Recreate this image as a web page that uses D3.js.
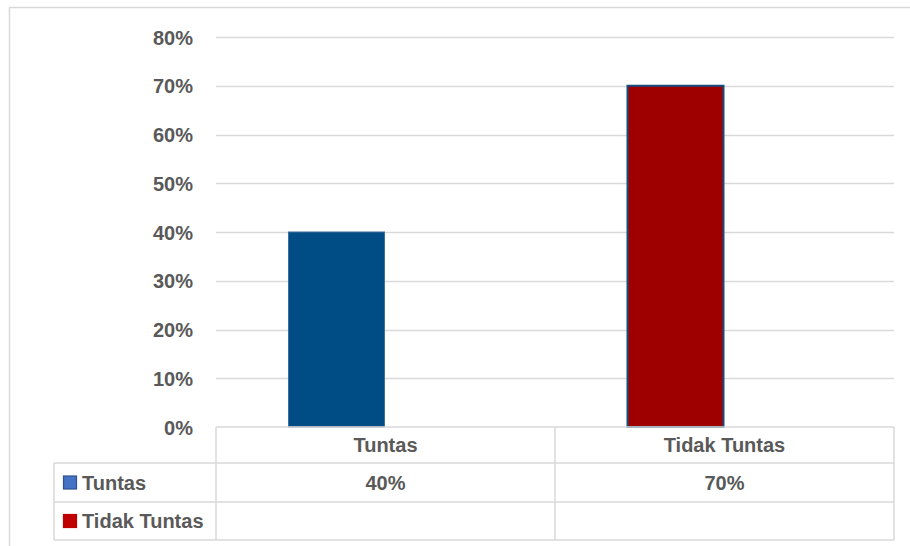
<!DOCTYPE html>
<html>
<head>
<meta charset="utf-8">
<script src="https://cdn.jsdelivr.net/npm/d3@7"></script>
<style>
  html, body { margin: 0; padding: 0; background: #fff; }
  svg { display: block; }
  text { font-family: "Liberation Sans", Arial, sans-serif; font-weight: bold; fill: #595959; }
</style>
</head>
<body>
<svg id="chart" width="910" height="546"></svg>
<script>
// Categories along the x axis and the two series of the clustered column chart
const categories = ["Tuntas", "Tidak Tuntas"];
const seriesNames = ["Tuntas", "Tidak Tuntas"];
const tuntasValues = [0.40, 0.70];
const tidakTuntasValues = [null, null];
const yTicks = [0, 0.1, 0.2, 0.3, 0.4, 0.5, 0.6, 0.7, 0.8];

const seriesValues = [tuntasValues, tidakTuntasValues];
const seriesColors = ["#4472C4", "#C00000"];
// per-point fill of the Tuntas series (the second column is recoloured red)
const pointFills = ["#004C84", "#9E0000"];
const pointStrokes = ["#3F6F9F", "#164C7E"];

const svg = d3.select("#chart");
const W = 910, H = 546;
const fs = "20px";

// outer chart border
svg.append("rect")
  .attr("x", 9.5).attr("y", 7.5)
  .attr("width", W + 10).attr("height", H + 10)
  .attr("fill", "none").attr("stroke", "#d9d9d9").attr("stroke-width", 1.5);

const plot = { left: 216, right: 894, top: 37, bottom: 427 };

const x = d3.scaleBand()
  .domain(categories)
  .range([plot.left, plot.right])
  .paddingInner(0).paddingOuter(0);

// bars occupy 196 of the 339px band (gap width ~73%)
const groupRatio = 196 / 339;
const xInner = d3.scaleBand()
  .domain(seriesNames)
  .range([0, x.bandwidth() * groupRatio]);

const y = d3.scaleLinear().domain([0, 0.8]).range([plot.bottom, plot.top]);

// horizontal gridlines
svg.append("g")
  .selectAll("line")
  .data(yTicks.filter(d => d > 0))
  .join("line")
  .attr("x1", plot.left).attr("x2", plot.right)
  .attr("y1", d => Math.round(y(d)) + 0.5).attr("y2", d => Math.round(y(d)) + 0.5)
  .attr("stroke", "#d9d9d9").attr("stroke-width", 1.5);

// y axis labels
const yAxis = d3.axisLeft(y).tickValues(yTicks).tickFormat(d3.format(".0%")).tickSize(0).tickPadding(23);
const ya = svg.append("g").attr("transform", `translate(${plot.left},0)`).call(yAxis);
ya.select(".domain").remove();
ya.selectAll("text").style("font-family", "'Liberation Sans', Arial, sans-serif").style("font-size", fs)
  .style("font-weight", "bold").attr("fill", "#595959").attr("dy", "0.35em");

// columns
const groupOffset = (x.bandwidth() - x.bandwidth() * groupRatio) / 2;
seriesNames.forEach((s, si) => {
  svg.append("g")
    .selectAll("rect")
    .data(categories.map((c, ci) => ({ c, ci, v: seriesValues[si][ci] })).filter(d => d.v != null))
    .join("rect")
    .attr("x", d => x(d.c) + groupOffset + xInner(s) + 1)
    .attr("y", d => y(d.v))
    .attr("width", xInner.bandwidth() - 2)
    .attr("height", d => y(0) - y(d.v))
    .attr("fill", d => si === 0 ? pointFills[d.ci] : seriesColors[si])
    .attr("stroke", d => si === 0 ? pointStrokes[d.ci] : seriesColors[si])
    .attr("stroke-width", d => d.ci === 1 ? 2 : 1);
});

// data table under the plot
const rowTops = [427, 463, 502, 540];
const tableLeft = 54;
const grid = svg.append("g").attr("stroke", "#d9d9d9").attr("stroke-width", 1.5).attr("fill", "none");
// header row spans only the category columns
grid.append("line").attr("x1", plot.left).attr("x2", plot.right).attr("y1", rowTops[0]).attr("y2", rowTops[0]);
[1, 2, 3].forEach(i => {
  grid.append("line").attr("x1", tableLeft).attr("x2", plot.right).attr("y1", rowTops[i]).attr("y2", rowTops[i]);
});
grid.append("line").attr("x1", tableLeft).attr("x2", tableLeft).attr("y1", rowTops[1]).attr("y2", rowTops[3]);
[plot.left, x(categories[1]), plot.right].forEach(xx => {
  grid.append("line").attr("x1", xx).attr("x2", xx).attr("y1", rowTops[0]).attr("y2", rowTops[3]);
});

// category header
svg.append("g").selectAll("text").data(categories).join("text")
  .attr("x", d => x(d) + x.bandwidth() / 2)
  .attr("y", (rowTops[0] + rowTops[1]) / 2)
  .attr("dy", "0.35em").attr("text-anchor", "middle").style("font-size", fs)
  .text(d => d);

// series rows: legend key, name and values
seriesNames.forEach((s, si) => {
  const cy = (rowTops[si + 1] + rowTops[si + 2]) / 2;
  svg.append("rect")
    .attr("x", 63.5).attr("y", cy - 6.5).attr("width", 13).attr("height", 13)
    .attr("fill", seriesColors[si])
    .attr("stroke", si === 0 ? "#2F528F" : "#C00000").attr("stroke-width", 1.2);
  svg.append("text").attr("x", 82).attr("y", cy).attr("dy", "0.35em")
    .style("font-size", fs).text(s);
  categories.forEach((c, ci) => {
    const v = seriesValues[si][ci];
    if (v == null) return;
    svg.append("text")
      .attr("x", x(c) + x.bandwidth() / 2).attr("y", cy).attr("dy", "0.35em")
      .attr("text-anchor", "middle").style("font-size", fs)
      .text(d3.format(".0%")(v));
  });
});
</script>
</body>
</html>
